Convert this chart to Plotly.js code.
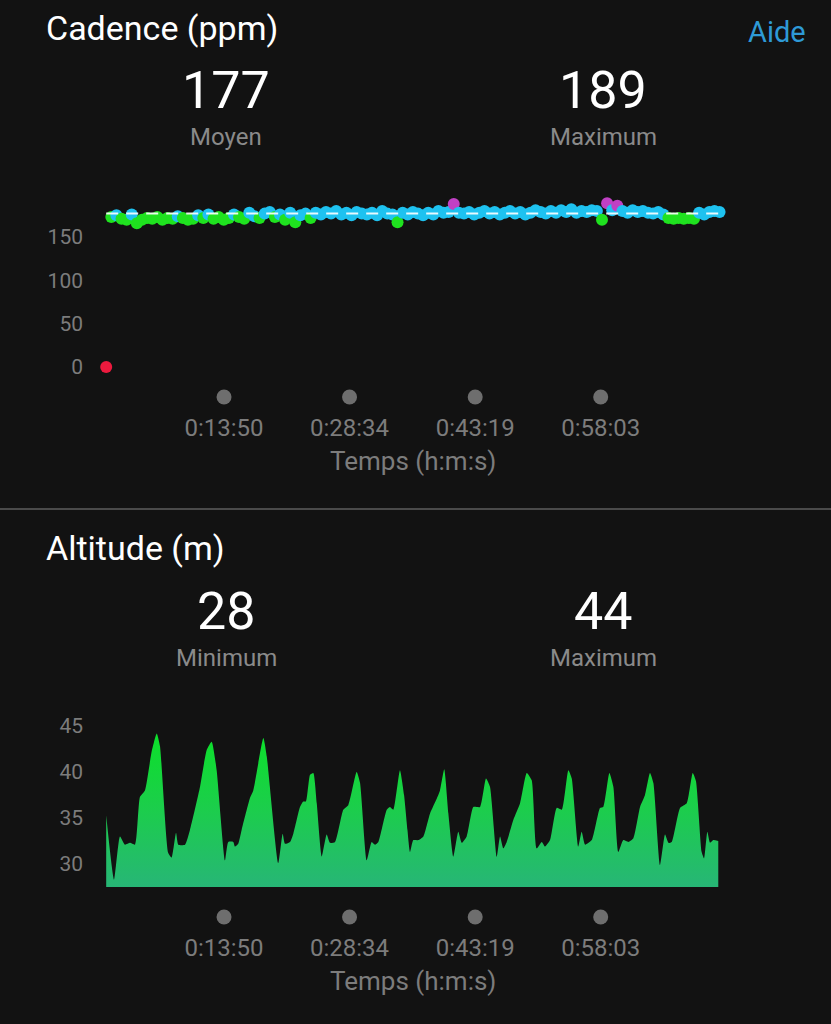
<!DOCTYPE html>
<html><head><meta charset="utf-8">
<script src="https://cdn.plot.ly/plotly-3.0.1.min.js"></script>
<style>html,body{margin:0;padding:0;background:#121212;overflow:hidden;} #chart{width:831px;height:1024px;}</style>
</head><body><div id="chart"></div>
<script>
// ---- data ----
const cadenceTime = [0,36,72,108,144,180,216,252,288,324,360,396,432,468,504,540,576,612,648,684,720,756,792,828,864,900,936,972,1008,1044,1080,1116,1152,1188,1224,1260,1296,1332,1368,1404,1440,1476,1512,1548,1584,1620,1656,1692,1728,1764,1800,1836,1872,1908,1944,1980,2016,2052,2088,2124,2160,2196,2232,2268,2304,2340,2376,2412,2448,2484,2520,2556,2592,2628,2664,2700,2736,2772,2808,2844,2880,2916,2952,2988,3024,3060,3096,3132,3168,3204,3240,3276,3312,3348,3384,3420,3456,3492,3528,3564,3600,3636,3672,3708,3744,3780,3816,3852,3888,3924,3960,3996,4032,4068,4104,4140,4176,4212,4248,4284,4320];
const cadenceValue = [0,
 173,175,171,170,176,166,170,172,171,173,
 170,172,171,174,172,170,171,175,172,176,
 171,173,170,172,176,173,171,178,174,172,
 177,179,173,176,170,178,167,175,177,172,
 178,176,179,177,180,176,178,175,179,177,
 176,178,175,180,177,176,167,178,176,179,
 177,175,178,176,180,178,179,188,178,177,
 179,176,178,180,177,179,176,178,180,177,
 179,176,178,181,179,177,180,178,181,179,
 182,178,180,179,181,180,170,189,181,186,
 180,178,181,179,180,178,177,179,176,172,
 171,172,171,172,171,178,176,179,180,179];
const cadenceAverage = 177;
const cadenceMaximum = 189;

const altitudeTime = [0,55,97,132,168,203,238,273,320,356,379,437,461,492,508,555,590,661,708,743,778,837,860,895,907,930,954,1013,1036,1107,1131,1212,1243,1259,1295,1318,1365,1388,1407,1436,1459,1483,1518,1553,1576,1612,1670,1705,1764,1788,1835,1870,1893,1917,1976,1999,2022,2069,2098,2122,2140,2163,2198,2234,2281,2328,2351,2381,2410,2445,2480,2504,2539,2586,2633,2675,2703,2751,2774,2797,2821,2868,2915,2962,2997,3032,3068,3091,3126,3173,3209,3255,3279,3325,3349,3373,3420,3478,3501,3544,3572,3607,3642,3678,3713,3760,3795,3830,3854,3901,3936,3960,3983,4042,4089,4131,4154,4194,4211,4234,4253,4276,4311];
const altitudeValue = [35.3,28.3,33.0,32.1,32.3,32.1,37.3,38.0,42.2,44.2,42.8,31.2,30.7,33.4,32.1,32.1,33.7,38.4,42.4,43.3,40.2,30.4,32.4,32.4,31.9,32.2,33.7,37.2,38.0,43.7,41.7,30.1,33.3,32.2,32.4,33.3,36.2,36.8,36.8,39.7,39.9,36.6,30.8,33.2,32.3,32.4,35.9,36.4,40.0,38.8,30.4,32.4,32.1,32.4,35.9,36.2,35.9,40.2,37.5,33.7,31.3,32.6,32.6,33.0,35.5,37.1,38.0,40.3,35.5,30.8,33.5,32.3,33.0,36.2,36.2,39.3,38.4,30.8,33.0,31.7,32.4,34.8,36.6,39.9,39.1,31.7,32.4,31.9,32.6,36.1,35.9,40.2,39.3,31.9,33.5,32.1,32.6,36.1,36.2,39.9,38.4,31.3,32.6,32.4,32.8,36.2,37.5,39.9,38.8,29.9,33.2,32.3,32.4,36.1,36.6,39.9,39.0,31.3,30.6,33.5,32.3,32.6,32.5];
const altitudeMinimum = 28;
const altitudeMaximum = 44;

const timeTickValues = [830, 1714, 2599, 3483];
const timeTickLabels = ['0:13:50','0:28:34','0:43:19','0:58:03'];
const cadenceTicks = [0, 50, 100, 150];
const altitudeTicks = [30, 35, 40, 45];

// ---- styling ----
const FONT = 'Roboto, "Noto Sans", sans-serif';
const BG = '#121212';
const GREY = '#7c7c7c';
const H = 1024, W = 831;
const fy = py => 1 - py / H;   // pixel row -> paper fraction
const fx = px => px / W;

function zoneColor(c){
  if (c >= 184) return '#c040c4';
  if (c >= 174) return '#1ec2f0';
  if (c >= 164) return '#1fe21f';
  if (c >= 153) return '#f08a1c';
  return '#ec1a3e';
}

const xRange = [-114, 4464];
const xDomain = [fx(90), fx(740)];

const traces = [
  { type:'scatter', mode:'markers', x:cadenceTime, y:cadenceValue, xaxis:'x', yaxis:'y',
    marker:{size:12, color:cadenceValue.map(zoneColor), line:{width:0}}, cliponaxis:false },
  { type:'scatter', mode:'lines', x:[cadenceTime[0], cadenceTime[cadenceTime.length-1]],
    y:[cadenceAverage, cadenceAverage], xaxis:'x', yaxis:'y',
    line:{color:'rgba(255,255,255,0.9)', width:2, dash:'12px,8px'} },
  { type:'scatter', mode:'markers', x:timeTickValues, y:timeTickValues.map(()=>0.5), xaxis:'x3', yaxis:'y3',
    marker:{size:15, color:'#6e6e6e'} },
  { type:'scatter', mode:'lines', x:altitudeTime, y:altitudeValue, xaxis:'x2', yaxis:'y2',
    line:{width:0, color:'#14d83a', shape:'spline', smoothing:0.5}, fill:'tozeroy',
    fillgradient:{type:'vertical', start:27.5, stop:44.2,
      colorscale:[[0,'#27b676'],[0.5,'#1ccd4c'],[1,'#0ce02a']]} },
  { type:'scatter', mode:'markers', x:timeTickValues, y:timeTickValues.map(()=>0.5), xaxis:'x4', yaxis:'y4',
    marker:{size:15, color:'#6e6e6e'} }
];

const tickFont = {family:FONT, size:21, color:GREY};
const xTickFont = {family:FONT, size:24, color:GREY};
const baseX = {range:xRange, domain:xDomain, showgrid:false, zeroline:false, showline:false, ticks:'', fixedrange:true};
const baseY = {showgrid:false, zeroline:false, showline:false, ticks:'', fixedrange:true};

function ann(text, px, py, size, color, anchor){
  return {text:text, x:fx(px), y:fy(py), xref:'paper', yref:'paper', xanchor:anchor||'center', yanchor:'middle',
    showarrow:false, borderpad:0, font:{family:FONT, size:size, color:color}};
}

const layout = {
  width:W, height:H, margin:{l:0,r:0,t:0,b:0,pad:0},
  paper_bgcolor:BG, plot_bgcolor:BG, showlegend:false, hovermode:false,
  xaxis: Object.assign({}, baseX, {anchor:'y', showticklabels:false}),
  yaxis: Object.assign({}, baseY, {anchor:'x', domain:[fy(380), fy(180)], range:[-15, 215.8],
          tickvals:cadenceTicks, tickfont:tickFont, ticklabelstandoff:6}),
  xaxis3: Object.assign({}, baseX, {anchor:'y3', tickvals:timeTickValues, ticktext:timeTickLabels,
          tickfont:xTickFont, ticklabelstandoff:4}),
  yaxis3: Object.assign({}, baseY, {anchor:'x3', domain:[fy(407), fy(387)], range:[0,1], visible:false}),
  xaxis2: Object.assign({}, baseX, {anchor:'y2', showticklabels:false}),
  yaxis2: Object.assign({}, baseY, {anchor:'x2', domain:[fy(887), fy(700)], range:[27.5, 47.83],
          tickvals:altitudeTicks, tickfont:tickFont, ticklabelstandoff:6}),
  xaxis4: Object.assign({}, baseX, {anchor:'y4', tickvals:timeTickValues, ticktext:timeTickLabels,
          tickfont:xTickFont, ticklabelstandoff:4}),
  yaxis4: Object.assign({}, baseY, {anchor:'x4', domain:[fy(927), fy(907)], range:[0,1], visible:false}),
  shapes:[{type:'line', xref:'paper', yref:'paper', x0:0, x1:1, y0:fy(509), y1:fy(509),
           line:{color:'#4a4a4a', width:2}}],
  annotations:[
    ann('Cadence (ppm)', 45, 28, 34, '#ffffff', 'left'),
    ann('Aide', 807, 32, 29, '#2e9ad6', 'right'),
    ann(String(cadenceAverage), 226, 90, 52, '#ffffff'),
    ann('Moyen', 226, 137, 24, '#8a8a8a'),
    ann(String(cadenceMaximum), 603, 90, 52, '#ffffff'),
    ann('Maximum', 603, 137, 24, '#8a8a8a'),
    ann('Temps (h:m:s)', 413, 461, 26, GREY),
    ann('Altitude (m)', 45, 548, 34, '#ffffff', 'left'),
    ann(String(altitudeMinimum), 226, 611, 52, '#ffffff'),
    ann('Minimum', 226, 658, 24, '#8a8a8a'),
    ann(String(altitudeMaximum), 603, 611, 52, '#ffffff'),
    ann('Maximum', 603, 658, 24, '#8a8a8a'),
    ann('Temps (h:m:s)', 413, 981, 26, GREY)
  ]
};

Plotly.newPlot('chart', traces, layout, {displayModeBar:false, staticPlot:true});
</script>
</body></html>
